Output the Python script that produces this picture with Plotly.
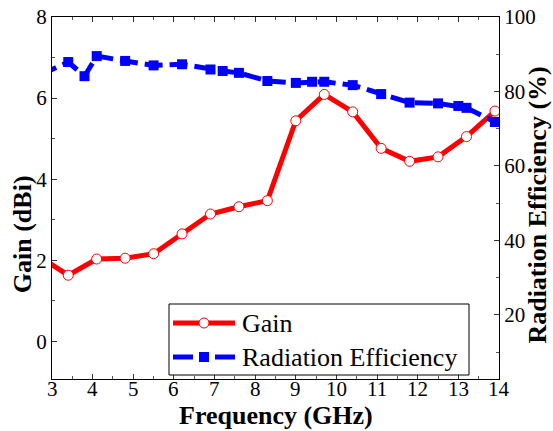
import plotly.graph_objects as go

# Measured antenna performance versus frequency
gain_freq = [2.7, 3.4, 4.1, 4.8, 5.5, 6.2, 6.9, 7.6, 8.3, 9.0, 9.7, 10.4, 11.1, 11.8, 12.5, 13.2, 13.9]
gain_dbi = [2.08, 1.63, 2.03, 2.05, 2.16, 2.65, 3.14, 3.32, 3.47, 5.44, 6.09, 5.66, 4.76, 4.44, 4.55, 5.05, 5.68]

eff_freq = [2.7, 3.4, 3.8, 4.1, 4.8, 5.5, 6.2, 6.9, 7.2, 7.6, 8.3, 9.0, 9.4, 9.7, 10.4, 11.1, 11.8, 12.5, 13.0, 13.2, 13.9]
eff_pct = [84.4, 87.9, 84.1, 89.5, 88.2, 87.0, 87.3, 85.9, 85.5, 85.0, 82.8, 82.3, 82.6, 82.6, 81.7, 79.3, 77.0, 76.8, 76.1, 75.6, 71.8]

x_ticks = list(range(3, 15))
gain_ticks = [0, 2, 4, 6, 8]
eff_ticks = [20, 40, 60, 80, 100]

series_names = ["Gain", "Radiation Efficiency"]

SERIF = "'Liberation Serif', Tinos, 'DejaVu Serif', serif"
RED = "#ff0000"
BLUE = "#0000ff"

# Figure geometry (pixels)
W, H = 553, 431
ML, MR, MT, MB = 52, 54, 17, 52
PW, PH = W - ML - MR, H - MT - MB


def px_x(px):
    return (px - ML) / PW


def px_y(py):
    return (H - MB - py) / PH


fig = go.Figure()

fig.add_trace(go.Scatter(
    x=gain_freq, y=gain_dbi, name=series_names[0], mode="lines+markers",
    line=dict(color=RED, width=5),
    marker=dict(symbol="circle", size=10, color="white", line=dict(color=RED, width=1)),
    cliponaxis=True, yaxis="y",
))

fig.add_trace(go.Scatter(
    x=eff_freq, y=eff_pct, name=series_names[1], mode="lines+markers",
    line=dict(color=BLUE, width=5, dash="18px,7px"),
    marker=dict(symbol="square", size=10, color=BLUE, line=dict(color=BLUE, width=0)),
    cliponaxis=True, yaxis="y2",
))

axis_common = dict(
    showgrid=False, zeroline=False, showline=True, linecolor="black", linewidth=1.2,
    ticks="inside", ticklen=5, tickwidth=1, tickcolor="#333",
    tickfont=dict(family=SERIF, size=21, color="black"),
    automargin=False,
)

fig.update_layout(
    width=W, height=H,
    margin=dict(l=ML, r=MR, t=MT, b=MB),
    paper_bgcolor="white", plot_bgcolor="white",
    font=dict(family=SERIF, color="black"),
    showlegend=False,
    xaxis=dict(**axis_common, range=[3, 14], tickvals=x_ticks, mirror="ticks",
               showticklabels=False,
               minor=dict(dtick=0.5, ticks="inside", ticklen=3, tickcolor="#555")),
    yaxis=dict(**axis_common, range=[-0.93, 8], tickvals=gain_ticks,
               minor=dict(dtick=1, ticks="inside", ticklen=3, tickcolor="#555")),
    yaxis2=dict(**axis_common, range=[2.76, 100], tickvals=eff_ticks, overlaying="y", side="right",
                minor=dict(dtick=10, ticks="inside", ticklen=3, tickcolor="#555")),
)

# Frequency tick labels, set close under the axis
for t in x_ticks:
    fig.add_annotation(text=str(t), x=t, xref="x", y=0, yref="paper",
                       yshift=-10, xanchor="center", yanchor="middle", showarrow=False,
                       font=dict(family=SERIF, size=21, color="black"))

# Axis titles
title_font = dict(family=SERIF, size=26, color="black")
fig.add_annotation(text="<b>Frequency (GHz)</b>", xref="paper", yref="paper",
                   x=0.5, y=0, yshift=-36, xanchor="center", yanchor="middle",
                   showarrow=False, font=title_font)
fig.add_annotation(text="<b>Gain (dBi)</b>", xref="paper", yref="paper",
                   x=0, y=0.4, xshift=-30, xanchor="center", yanchor="middle",
                   textangle=-90, showarrow=False, font=title_font)
fig.add_annotation(text="<b>Radiation Efficiency (%)</b>", xref="paper", yref="paper",
                   x=1, y=0.479, xshift=39, xanchor="center", yanchor="middle",
                   textangle=-90, showarrow=False, font=title_font)

# Legend box with line/marker samples
box = dict(x0=169, x1=469, y0=304, y1=375)
row_y = [323, 357]
fig.add_shape(type="rect", xref="paper", yref="paper", layer="above",
              x0=px_x(box["x0"]), x1=px_x(box["x1"]), y0=px_y(box["y1"]), y1=px_y(box["y0"]),
              line=dict(color="black", width=1), fillcolor="white")

# Gain sample: solid red line with hollow circle
fig.add_shape(type="line", xref="paper", yref="paper", layer="above",
              x0=px_x(173), x1=px_x(235), y0=px_y(row_y[0]), y1=px_y(row_y[0]),
              line=dict(color=RED, width=5))
fig.add_shape(type="circle", xref="paper", yref="paper", layer="above",
              x0=px_x(199), x1=px_x(209), y0=px_y(row_y[0] + 5), y1=px_y(row_y[0] - 5),
              line=dict(color=RED, width=1), fillcolor="white")

# Efficiency sample: two blue dashes around a filled square
for xa, xb in [(173, 193), (215, 235)]:
    fig.add_shape(type="line", xref="paper", yref="paper", layer="above",
                  x0=px_x(xa), x1=px_x(xb), y0=px_y(row_y[1]), y1=px_y(row_y[1]),
                  line=dict(color=BLUE, width=5))
fig.add_shape(type="rect", xref="paper", yref="paper", layer="above",
              x0=px_x(199), x1=px_x(209), y0=px_y(row_y[1] + 5), y1=px_y(row_y[1] - 5),
              line=dict(color=BLUE, width=0), fillcolor=BLUE)

for name, ry in zip(series_names, row_y):
    fig.add_annotation(text=name, xref="paper", yref="paper",
                       x=px_x(240), y=px_y(ry), xanchor="left", yanchor="middle",
                       showarrow=False, font=dict(family=SERIF, size=26, color="black"))

fig.write_html("out.html")
